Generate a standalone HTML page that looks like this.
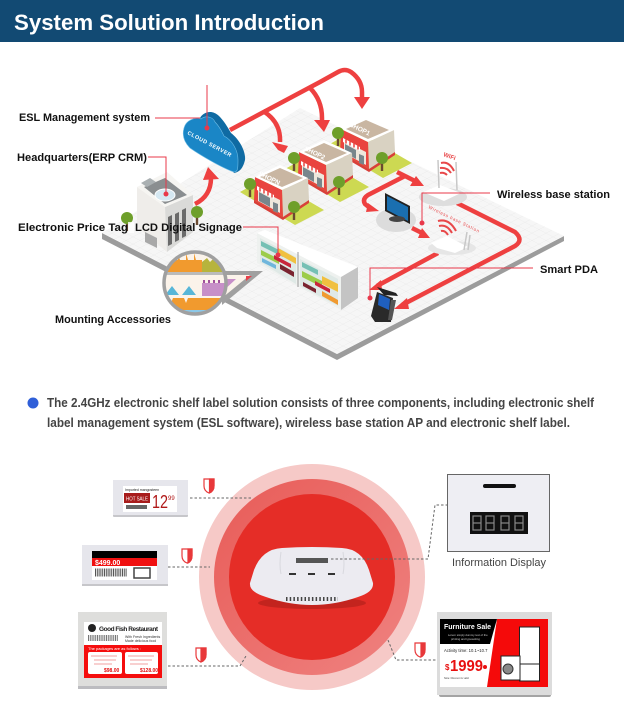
<!DOCTYPE html>
<html><head><meta charset="utf-8"><style>
html,body{margin:0;padding:0;background:#fff;width:624px;height:720px;overflow:hidden}
svg{display:block}
text{font-family:"Liberation Sans",sans-serif}
.l{font-size:11px;font-weight:bold;fill:#111}
.a{fill:none;stroke:#ee4040;stroke-width:4.5;stroke-linejoin:round}
.h{fill:#ee4040}
.t{fill:none;stroke:#e8384a;stroke-width:1}
.d{fill:#e8384a}
.dash{fill:none;stroke:#666;stroke-width:1;stroke-dasharray:2.5 2}
</style></head><body>
<svg width="624" height="720" viewBox="0 0 624 720" xmlns="http://www.w3.org/2000/svg">
<defs>
<pattern id="g" width="7" height="7" patternUnits="userSpaceOnUse" patternTransform="matrix(1 .52 -1 .52 0 0)">
<rect width="7" height="7" fill="#f6f6f6"/><path d="M0 0H7M0 0V7" stroke="#e9e9e9" stroke-width=".7" fill="none"/>
</pattern>
<linearGradient id="mid" x1="0" y1="0" x2="1" y2="1"><stop offset="0" stop-color="#e85c58"/><stop offset="1" stop-color="#ef8280"/></linearGradient>
<g id="shop">
<polygon points="28,25 54,13 55,35 29,52" fill="#d9d2c2"/>
<polygon points="1,12 28,25 29,52 0,35" fill="#e9443f"/>
<polygon points="4,24 26,35 26,48 4,36" fill="#eee7dc"/>
<polygon points="5,27 16,33 16,42 5,36" fill="#78868c"/>
<polygon points="19,37 24,39 24,48 19,46" fill="#78868c"/>
<polygon points="3,21 20,30 20,34 3,25" fill="#fff"/>
<path d="M6 22.500v4M10 24.500v4M14 26.500v4M18 28.500v4" stroke="#e9443f" stroke-width="1.500"/>
<polygon points="1,12 26,0 54,13 28,25" fill="#fff"/>
<polygon points="6,12 26,3 49,13 28,22" fill="#c9b6a2"/>
<polygon points="29,52 55,35 55,38 29,55 0,38 0,35" fill="#d8403a"/>
</g>
<g id="tree"><rect x="-1.200" y="2" width="2.400" height="11" fill="#6a4a30"/><circle r="6" fill="#6e9f2a"/></g>
<g id="pad"><polygon points="0,0 27,-15 84,18 55,33" fill="#cdd952"/></g>
<clipPath id="mg"><circle cx="195" cy="283" r="30"/></clipPath>
</defs>

<rect width="624" height="42" fill="#124a73"/>
<text x="14" y="30" font-size="22" font-weight="bold" fill="#fff" textLength="310" lengthAdjust="spacingAndGlyphs">System Solution Introduction</text>

<!-- floor -->
<polygon points="102,233 337,354 564,236 564,241 337,360 102,239" fill="#9c9c9c"/>
<polygon points="102,233 300,108 564,236 337,354" fill="url(#g)"/>

<!-- pads -->
<use href="#pad" x="240" y="192"/><use href="#pad" x="285" y="169"/><use href="#pad" x="328" y="145"/>

<!-- shops -->
<use href="#shop" x="340" y="117"/><use href="#shop" x="298" y="140"/><use href="#shop" x="254" y="165"/>
<g font-size="6.500" font-weight="bold" fill="#fff">
<text transform="translate(349,126) rotate(26)">SHOP1</text>
<text transform="translate(304,150) rotate(26)">SHOP2</text>
<text transform="translate(258,175) rotate(26)">SHOPN</text>
</g>
<use href="#tree" x="338" y="133"/><use href="#tree" x="382" y="158"/><use href="#tree" x="294" y="158"/><use href="#tree" x="339" y="182"/><use href="#tree" x="250" y="184"/><use href="#tree" x="294" y="207"/>

<!-- arrows to shops -->
<path class="a" d="M230 130 L320 82 L338 72 Q345 68 351 72 Q362 80 362 92 L362 100"/>
<polygon class="h" points="354,97 370,97 362,109"/>
<path class="a" d="M310 88 Q322 100 322 118 L322 124"/>
<polygon class="h" points="314,120 330,120 324,132"/>
<path class="a" d="M263 111 Q281 122 280 142"/>
<polygon class="h" points="272,142 288,146 284,153 278,150"/>
<path class="a" stroke-width="5.500" d="M195 204 Q211 196 211 178"/>
<polygon class="h" points="203,180 219,179 208,167"/>

<!-- monitor -->
<ellipse cx="396" cy="220" rx="20" ry="12" fill="#dcdcdc"/>
<polygon points="385,193 410,206 410,224 385,211" fill="#222"/>
<polygon points="387,196 408,207 408,221 387,210" fill="#1a6fb0"/>
<ellipse cx="397" cy="219" rx="8" ry="3" fill="#444"/>

<!-- router arrows -->
<path class="a" d="M397 172 L415 181"/><polygon class="h" points="410,186 416,176 424,186"/>
<path class="a" d="M405 176 L368 195 Q362 199 365 204 L370 208"/><polygon class="h" points="368,203 379,211 366,212"/>
<path class="a" d="M412 228 L422 233"/><polygon class="h" points="418,238 422,228 430,238"/>
<path class="a" d="M438 253 L377 286"/><polygon class="h" points="369,290 381,280 382,290"/>
<path class="a" d="M457 203 L515 232 Q524 240 515 246 L402 305"/><polygon class="h" points="394,309 407,298 409,309"/>

<!-- building -->
<polygon points="137,187 165,207 167,252 137,227" fill="#efedea"/>
<polygon points="165,207 193,195 193,232 167,252" fill="#dadad8"/>
<polygon points="137,187 167,172 193,195 165,207" fill="#f6f5f2"/>
<polygon points="144,187 165,178 187,195 165,204" fill="#8a8e90"/>
<ellipse cx="165" cy="195" rx="10" ry="6" fill="#d5e8f2" stroke="#fff"/>
<polygon points="141,183 150,178 156,182 147,187" fill="#aab0b2"/>
<g fill="#6a6a6a"><polygon points="168,217 172,215 172,244 168,246"/><polygon points="175,214 179,212 179,240 175,242"/><polygon points="182,210 186,208 186,236 182,238"/></g>
<polygon points="145,232 157,238 157,248 145,242" fill="#a8a8a8"/>
<use href="#tree" x="127" y="218"/><use href="#tree" x="197" y="212"/>

<!-- shelf -->
<polygon points="257,233 341,277 341,310 257,263" fill="#eef1ef"/>
<polygon points="260,238 296,257 296,284 260,262" fill="#dfe9e6"/>
<polygon points="300,259 338,279 338,306 300,286" fill="#dfe9e6"/>
<g>
<polygon points="261,241 283,252 283,257 261,246" fill="#75c0b4"/>
<polygon points="261,250 279,259 279,264 261,255" fill="#9ccc4a"/>
<polygon points="262,258 276,265 276,269 262,262" fill="#6fb6dc"/>
<polygon points="274,255 291,264 291,268 274,259" fill="#c9243a"/>
<polygon points="278,248 296,258 296,264 278,254" fill="#f0c040"/>
<polygon points="280,264 294,272 294,277 280,269" fill="#7a2430"/>
<polygon points="302,262 318,270 318,275 302,267" fill="#75c0b4"/>
<polygon points="302,271 322,281 322,287 302,277" fill="#9ccc4a"/>
<polygon points="315,281 330,289 330,293 315,285" fill="#c9243a"/>
<polygon points="322,276 338,284 338,292 322,284" fill="#f0c040"/>
<polygon points="322,291 338,300 338,305 322,296" fill="#f09a30"/>
<polygon points="303,282 316,289 316,293 303,286" fill="#7a2430"/>
</g>
<polygon points="257,233 265,230 358,267 348,275 341,277" fill="#fff"/>
<polygon points="341,277 358,267 358,298 341,310" fill="#c4c4c4"/>
<line x1="298" y1="252" x2="298" y2="287" stroke="#999" stroke-width="1"/>

<!-- magnifier -->
<polygon points="222,271 263,271 222,305" fill="#a0a0a0"/>
<polygon points="222,275 250,275 222,298" fill="#fbf3ea"/>
<polygon points="222,279 236,279 222,292" fill="#c78fc8"/>
<polygon points="246,276 252,276 246,281" fill="#e8404a"/>
<circle cx="195" cy="283" r="31" fill="#fbf3ea"/>
<g clip-path="url(#mg)">
<path d="M160 272V262L170 260V254L172 260 L178 260V253L180 260 L186 260V253L188 260 L194 260V253L196 260 L202 260V272Z" fill="#f19a2e"/>
<path d="M202 272V262L207 258L210 262L214 258L217 262L221 258L226 262V272Z" fill="#b7b43c"/>
<rect x="160" y="272" width="70" height="3" fill="#bbb"/>
<path d="M202 283h28v13h-28Z" fill="#c78fc8"/>
<path d="M204 283v-3M209 283v-3M214 283v-3M219 283v-3" stroke="#a0509c" stroke-width="2"/>
<path d="M165 295L172 286L179 295ZM182 295L189 286L196 295Z" fill="#58b6d8"/>
<path d="M165 298H225V315H165Z" fill="#f19a2e"/>
<path d="M165 298h8l-2 5-2-5M180 298h8l-2 5-2-5" fill="#fbf3ea"/>
<rect x="175" y="310" width="34" height="4" fill="#8cc8e8"/>
</g>
<circle cx="195" cy="283" r="31" fill="none" stroke="#a0a0a0" stroke-width="3.500"/>

<!-- cloud -->
<path d="M200 118 C203 112 212 109 219 116 C225 122 228 128 231 133 C240 140 246 152 245 160 C243 168 240 172 234 173 L205 130 Z" fill="#0f6ba3"/>
<path d="M184 128 C186 120 195 117 201 119 C206 115 213 117 215 122 C220 127 222 132 224 136 C232 140 238 150 238 160 C238 168 238 172 234 172 C222 168 200 155 190 148 C184 142 182 135 184 128Z" fill="#1a86c6" stroke="#6cbce6" stroke-width=".6"/>
<text transform="translate(187,134) rotate(28)" font-size="5.500" font-weight="bold" fill="#fff" textLength="49">CLOUD SERVER</text>

<!-- routers -->
<ellipse cx="443" cy="197" rx="24" ry="9" fill="#dedede"/>
<polygon points="423,192 440,185 461,193 444,201" fill="#fff"/>
<path d="M438 160 L439 188 M456 162 L457 190" stroke="#c8c8c8" stroke-width="1.500" fill="none"/>
<ellipse cx="452" cy="248" rx="24" ry="7" fill="#e6e6e6"/>
<polygon points="431,243 447,236 468,247 455,253 437,248" fill="#fff"/>
<path d="M467 232 L464 250 M470 235 L468 250" stroke="#c8c8c8" stroke-width="1.500" fill="none"/>

<!-- wifi -->
<g fill="none" stroke="#e8484a" stroke-width="2">
<path d="M441 163 Q449 161 454 171"/><path d="M440 168 Q447 167 451 173"/><path d="M440 173 Q444 172 447 175"/>
<path d="M438 221 Q449 218 456 231"/><path d="M439 226 Q447 224 452 233"/><path d="M441 231 Q445 230 448 235"/>
</g>
<text transform="translate(443,156) rotate(20)" font-size="6" font-weight="bold" fill="#e8484a">WiFi</text>
<text transform="translate(428,208) rotate(26)" font-size="4.500" fill="#e8484a" textLength="56">Wireless base Station</text>

<!-- PDA -->
<polygon points="377,287 396,293 398,296 384,295" fill="#222"/>
<polygon points="377,292 393,298 391,322 375,322 371,316" fill="#2a2a2a"/>
<polygon points="379,294 390,299 389,310 378,305" fill="#1f5fbf"/>
<polygon points="391,300 396,300 392,320 388,320" fill="#555"/>

<!-- leader lines -->
<path class="t" d="M155 118H200M207 85V127"/><circle class="d" cx="207" cy="128" r="2.500"/>
<path class="t" d="M148 157H166V194"/><circle class="d" cx="166" cy="194" r="2.500"/>
<path class="t" d="M243 227H278V255"/><circle class="d" cx="278" cy="255" r="2.500"/>
<path class="t" d="M490 193H422V223"/><circle class="d" cx="422" cy="223" r="2.500"/>
<path class="t" d="M533 268H370V298"/><circle class="d" cx="370" cy="298" r="2.500"/>

<!-- labels -->
<text class="l" x="19" y="121" textLength="131" lengthAdjust="spacingAndGlyphs">ESL Management system</text>
<text class="l" x="17" y="161" textLength="130" lengthAdjust="spacingAndGlyphs">Headquarters(ERP CRM)</text>
<text class="l" x="18" y="231" textLength="110" lengthAdjust="spacingAndGlyphs">Electronic Price Tag</text>
<rect x="128" y="222" width="6" height="11" fill="#fff" fill-opacity=".8"/>
<text class="l" x="135" y="231" textLength="107" lengthAdjust="spacingAndGlyphs">LCD Digital Signage</text>
<text class="l" x="55" y="323" textLength="116" lengthAdjust="spacingAndGlyphs">Mounting Accessories</text>
<text class="l" x="497" y="198" textLength="113" lengthAdjust="spacingAndGlyphs">Wireless base station</text>
<text class="l" x="540" y="273" textLength="58" lengthAdjust="spacingAndGlyphs">Smart PDA</text>

<!-- paragraph -->
<circle cx="33" cy="403" r="5.500" fill="#2f5fd8"/>
<text x="47" y="407" font-size="12.500" font-weight="bold" fill="#444" textLength="547" lengthAdjust="spacingAndGlyphs">The 2.4GHz electronic shelf label solution consists of three components, including electronic shelf</text>
<text x="47" y="427" font-size="12.500" font-weight="bold" fill="#444" textLength="523" lengthAdjust="spacingAndGlyphs">label management system (ESL software), wireless base station AP and electronic shelf label.</text>

<!-- circles -->
<circle cx="312" cy="577" r="113" fill="#f6c9c7"/>
<circle cx="312" cy="577" r="98" fill="url(#mid)"/>
<circle cx="312" cy="577" r="83" fill="#e52d27"/>

<!-- AP -->
<ellipse cx="312" cy="603" rx="54" ry="6" fill="#a81d18" opacity=".55"/>
<path d="M254 570 Q262 549 282 548 Q312 546 342 548 Q362 549 369 570 L373 583 Q374 592 358 597 Q335 605 312 605 Q289 605 266 597 Q249 592 250 583Z" fill="#ecebf1"/>
<path d="M281 552 Q279 565 281 574M343 552 Q345 565 343 574" stroke="#d8d8de" fill="none"/>
<rect x="296" y="558" width="32" height="5" fill="#555"/>
<rect x="289" y="573" width="7" height="2" fill="#333"/><rect x="308" y="573" width="7" height="2" fill="#333"/><rect x="328" y="573" width="7" height="2" fill="#333"/>
<line x1="286" y1="599" x2="338" y2="599" stroke="#444" stroke-width="4" stroke-dasharray="1.500 2.200"/>

<!-- dashed connectors -->
<path class="dash" d="M190 498H252"/>
<path class="dash" d="M168 567H210"/>
<path class="dash" d="M168 666H240L246 656"/>
<path class="dash" d="M331 559H428L435 505H447"/>
<path class="dash" d="M388 640L396 660H437"/>

<!-- shields -->
<g fill="#e8383a" stroke="#e8383a" stroke-width="1.200">
<path d="M204 479H214V486Q214 491 209 493Q204 491 204 486Z" fill="#fff"/><path d="M209.500 479H214V486Q214 491 209.500 493Z"/>
<path d="M182 549H192V556Q192 561 187 563Q182 561 182 556Z" fill="#fff"/><path d="M188 549H192V556Q192 561 188 563Z"/>
<path d="M196 648H206V655Q206 660 201 662Q196 660 196 655Z" fill="#fff"/><path d="M201 648H206V655Q206 660 201 662Z"/>
<path d="M415 643H425V650Q425 655 420 657Q415 655 415 650Z" fill="#fff"/><path d="M421 643H425V650Q425 655 421 657Z"/>
</g>

<!-- tag 1 -->
<rect x="113" y="482" width="75" height="35" rx="1" fill="#c6c6ca"/>
<rect x="113" y="480" width="75" height="35" fill="#e6e6ec"/>
<rect x="123" y="486" width="54" height="26" fill="#fff"/>
<text x="125" y="491" font-size="3.500" fill="#222">Imported mangosteen</text>
<rect x="124" y="493" width="26" height="10" fill="#a81c1c"/>
<text x="126" y="500.500" font-size="5.500" fill="#fff" textLength="22" lengthAdjust="spacingAndGlyphs">HOT SALE</text>
<text x="152" y="508" font-size="18" fill="#b01818" textLength="16" lengthAdjust="spacingAndGlyphs">12</text>
<text x="168" y="500" font-size="6" fill="#b01818">99</text>
<rect x="126" y="505" width="21" height="4" fill="#666"/>

<!-- tag 2 -->
<rect x="82" y="547" width="86" height="39" fill="#c6c6ca"/>
<rect x="82" y="545" width="86" height="39" fill="#e6e6ec"/>
<rect x="92" y="551" width="65" height="29" fill="#fff"/>
<rect x="92" y="551" width="65" height="7" fill="#000"/>
<rect x="92" y="558" width="65" height="8" fill="#f01010"/>
<text x="95" y="565" font-size="7" font-weight="bold" fill="#fff">$499.00</text>
<line x1="95" y1="572.500" x2="127" y2="572.500" stroke="#555" stroke-width="8" stroke-dasharray="1 .8"/>
<rect x="134" y="568" width="16" height="10" fill="#fff" stroke="#444" stroke-width="1.500"/>

<!-- tag 3 -->
<rect x="78" y="614" width="89" height="75" fill="#bcbcc0"/>
<rect x="78" y="612" width="89" height="74" fill="#dededc"/>
<rect x="84" y="622" width="78" height="56" fill="#fff"/>
<circle cx="92" cy="628" r="4" fill="#222"/>
<text x="99" y="631" font-size="6.500" font-weight="bold" fill="#222" textLength="59">Good Fish Restaurant</text>
<line x1="88" y1="638" x2="118" y2="638" stroke="#777" stroke-width="6" stroke-dasharray="1 .8"/>
<text x="125" y="638" font-size="3.500" fill="#333">With Fresh Ingredients</text>
<text x="125" y="642" font-size="3.500" fill="#333">Made delicious food</text>
<rect x="84" y="645" width="78" height="33" fill="#f50d0d"/>
<text x="88" y="650" font-size="4" fill="#fff">The packages are as follows :</text>
<rect x="88" y="652" width="34" height="22" rx="2" fill="#fff"/>
<rect x="125" y="652" width="33" height="22" rx="2" fill="#fff"/>
<text x="104" y="672" font-size="5" font-weight="bold" fill="#e01010">$98.00</text>
<text x="140" y="672" font-size="5" font-weight="bold" fill="#e01010">$128.00</text>
<g stroke="#f2a0a0" stroke-width="1"><path d="M91 656h26M94 660h22M94 664h18M128 656h26M130 660h22M130 664h18"/></g>

<!-- information display -->
<rect x="447.500" y="474.500" width="102" height="77" fill="#eeeef3" stroke="#666"/>
<rect x="483" y="484" width="33" height="4" rx="2" fill="#111"/>
<rect x="470" y="512" width="58" height="22" fill="#111"/>
<g fill="none" stroke="#888" stroke-width="1.200">
<rect x="473" y="516" width="8" height="14"/><path d="M473 523h8"/>
<rect x="486" y="516" width="8" height="14"/><path d="M486 523h8"/>
<rect x="501" y="516" width="8" height="14"/><path d="M501 523h8"/>
<rect x="515" y="516" width="8" height="14"/><path d="M515 523h8"/>
</g>
<text x="452" y="566" font-size="11" fill="#444" textLength="94">Information Display</text>

<!-- furniture tag -->
<rect x="439" y="616" width="112" height="81" rx="2" fill="#a4a4a4"/>
<rect x="437" y="612" width="115" height="83" fill="#dcdcdc"/>
<rect x="440" y="619" width="108" height="68" fill="#fff"/>
<polygon points="497,619 548,619 548,687 487,687" fill="#f50a0a"/>
<polygon points="440,619 497,619 490,644 440,644" fill="#000"/>
<text x="444" y="629" font-size="7" font-weight="bold" fill="#fff">Furniture Sale</text>
<text x="448" y="636" font-size="2.800" fill="#ccc">Lorem simply dummy text of the</text>
<text x="451" y="640" font-size="2.800" fill="#ccc">printing and typesetting</text>
<text x="444" y="652" font-size="4.200" fill="#222">Activity time: 10.1~10.7</text>
<text x="445" y="670" font-size="8" font-weight="bold" fill="#e81010">$</text>
<text x="450" y="671" font-size="15.500" font-weight="bold" fill="#e81010" textLength="33" lengthAdjust="spacingAndGlyphs">1999</text>
<circle cx="485" cy="667" r="2" fill="#e81010"/>
<text x="444" y="679" font-size="2.500" fill="#444">Note: Discount is valid</text>
<rect x="519.500" y="627" width="20" height="37" fill="#fff" stroke="#222"/>
<rect x="519.500" y="664" width="20" height="17" fill="#fff" stroke="#222"/>
<rect x="501" y="656" width="19" height="24" fill="#fff" stroke="#222"/>
<circle cx="508" cy="669" r="5" fill="#888" stroke="#333"/>
</svg>
</body></html>
